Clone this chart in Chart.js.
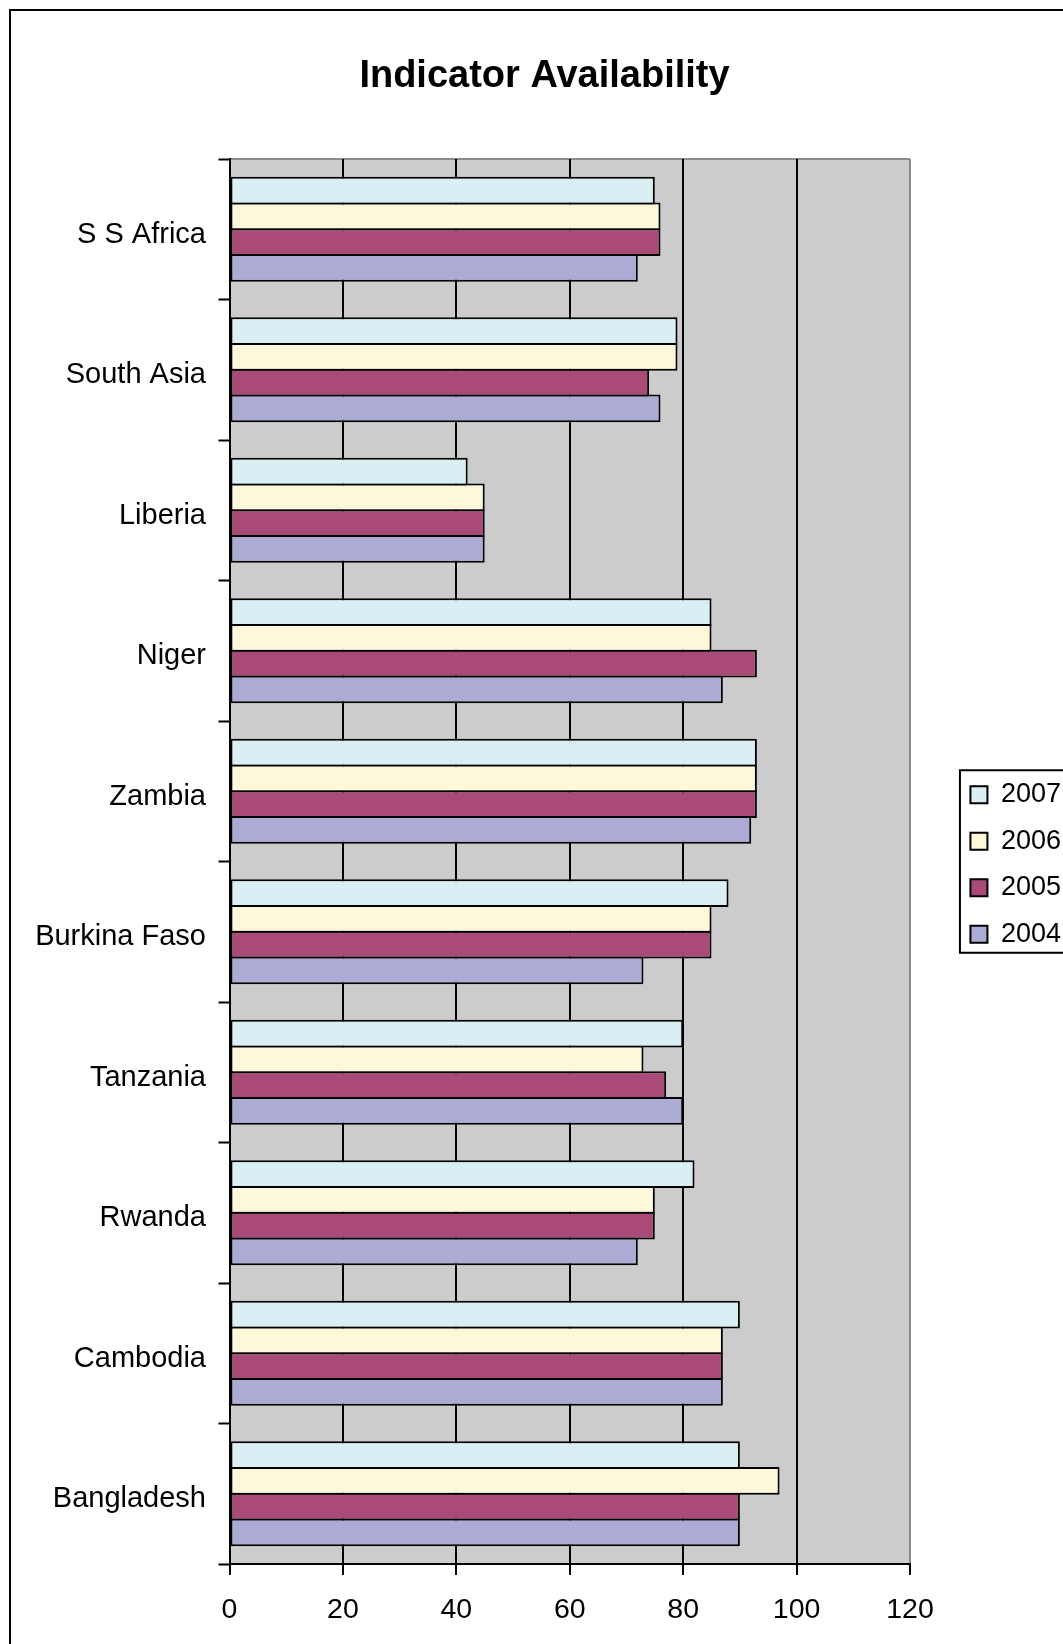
<!DOCTYPE html>
<html>
<head>
<meta charset="utf-8">
<title>Indicator Availability</title>
<script src="https://cdn.jsdelivr.net/npm/chart.js@4.4.1/dist/chart.umd.min.js"></script>
<style>
  html, body { margin: 0; padding: 0; background: #ffffff; overflow: hidden; }
  #wrap { position: absolute; left: 0; top: 0; }
  canvas { display: block; }
</style>
</head>
<body>
<div id="wrap"><canvas id="chart"></canvas></div>
<script>
// Countries / regions, top to bottom
const categories = ['S S Africa', 'South Asia', 'Liberia', 'Niger', 'Zambia',
                    'Burkina Faso', 'Tanzania', 'Rwanda', 'Cambodia', 'Bangladesh'];

// Indicator availability per year
const years = ['2007', '2006', '2005', '2004'];
const values2007 = [75, 79, 42, 85, 93, 88, 80, 82, 90, 90];
const values2006 = [76, 79, 45, 85, 93, 85, 73, 75, 87, 97];
const values2005 = [76, 74, 45, 93, 93, 85, 77, 75, 87, 90];
const values2004 = [72, 76, 45, 87, 92, 73, 80, 72, 87, 90];

// Value axis ticks
const xTicks = [0, 20, 40, 60, 80, 100, 120];

const seriesValues = [values2007, values2006, values2005, values2004];
const seriesColors = ['#DAEFF4', '#FDF8D9', '#AA4A78', '#ABABD6'];

// ---- layout constants (page pixels) ----
const H = 1729;
const FONT = '"Liberation Sans", Arial, sans-serif';
const AXIS_SIZE_Y = 29;
const AXIS_SIZE_X = 28.5;
const LEGEND_SIZE = 27;
const LEG_PAD = 19.5;
const LEG_BOX = 17;
const PLOT_TOP = 159;
const PLOT_LEFT = 229.5;
const PLOT_RIGHT = 910;
const PLOT_BOTTOM = 1564;
const LEFT_PAD = 18;
const LEGEND_LEFT = 950.5;

let gapWidth = 40;

const cv = document.getElementById('chart');

function sizeCanvas(w) {
  cv.width = w;
  cv.height = H;
  cv.style.width = w + 'px';
  cv.style.height = H + 'px';
}

Chart.defaults.font.family = FONT;
Chart.defaults.color = '#000000';

// Plot background, outer frame and legend frame
const decor = {
  id: 'decor',
  beforeDraw(chart) {
    const {ctx, chartArea: a} = chart;
    ctx.save();
    ctx.fillStyle = '#CCCCCC';
    ctx.fillRect(a.left, a.top, a.right - a.left, a.bottom - a.top);
    ctx.strokeStyle = '#8C8C8C';
    ctx.lineWidth = 2;
    ctx.beginPath();
    ctx.moveTo(a.left, a.top);
    ctx.lineTo(a.right, a.top);
    ctx.stroke();
    // outer frame
    ctx.fillStyle = '#000000';
    ctx.fillRect(9, 9, 2, chart.height);
    ctx.fillRect(9, 9, chart.width, 2);
    ctx.restore();
  },
  afterDraw(chart) {
    const lg = chart.legend;
    if (!lg || !lg.legendHitBoxes || !lg.legendHitBoxes.length) return;
    const hb = lg.legendHitBoxes;
    const first = hb[0], last = hb[hb.length - 1];
    const {ctx} = chart;
    ctx.save();
    ctx.strokeStyle = '#000000';
    ctx.lineWidth = 2;
    const x0 = first.left - 10.5;
    const y0 = first.top - 11;
    const y1 = last.top + last.height + 5;
    ctx.strokeRect(x0, y0, chart.width + 40 - x0, y1 - y0);
    ctx.restore();
  }
};

const catSize = (PLOT_BOTTOM - PLOT_TOP) / categories.length;
const catPct = 0.732;
const slot = catSize * catPct / years.length;

function makeConfig() {
  const datasets = years.map((y, i) => ({
    label: y,
    data: seriesValues[i],
    backgroundColor: seriesColors[i],
    borderColor: '#000000',
    borderWidth: 2,
    borderSkipped: false,
    xAxisID: 'x',
    yAxisID: 'y'
  }));

  return {
    type: 'bar',
    data: { labels: categories, datasets },
    plugins: [decor],
    options: {
      indexAxis: 'y',
      responsive: false,
      animation: false,
      devicePixelRatio: 1,
      categoryPercentage: catPct,
      barPercentage: 1 + 2 / slot,
      layout: { padding: { left: LEFT_PAD, top: 0, right: 0, bottom: 0 } },
      plugins: {
        title: {
          display: true,
          text: 'Indicator Availability',
          color: '#000000',
          font: { size: 38, weight: 'bold', lineHeight: 1.2 },
          padding: { top: 54.2, bottom: 59.2 }
        },
        legend: {
          display: true,
          position: 'right',
          align: 'center',
          labels: {
            boxWidth: LEG_BOX,
            boxHeight: LEG_BOX,
            padding: LEG_PAD,
            color: '#000000',
            font: { size: LEGEND_SIZE }
          }
        },
        tooltip: { enabled: false }
      },
      scales: {
        x: {
          type: 'linear',
          position: 'bottom',
          min: xTicks[0],
          max: xTicks[xTicks.length - 1],
          afterBuildTicks(scale) {
            scale.ticks = xTicks.map(v => ({ value: v }));
          },
          afterFit(scale) { scale.height = H - PLOT_BOTTOM; },
          grid: {
            display: true,
            drawOnChartArea: true,
            drawTicks: true,
            tickLength: 11,
            lineWidth: 2,
            tickWidth: 2,
            tickColor: '#000000',
            color: ctx => (ctx.tick && ctx.tick.value === 120) ? '#8C8C8C' : '#000000'
          },
          border: { display: true, color: '#000000', width: 2 },
          ticks: {
            color: '#000000',
            font: { size: AXIS_SIZE_X },
            padding: 18.5,
            maxRotation: 0
          }
        },
        y: {
          type: 'category',
          position: 'left',
          afterFit(scale) { scale.width = PLOT_LEFT - LEFT_PAD; },
          grid: {
            display: true,
            offset: true,
            drawOnChartArea: false,
            drawTicks: true,
            tickLength: 11,
            tickWidth: 2,
            tickColor: '#000000'
          },
          border: { display: true, color: '#000000', width: 2 },
          ticks: {
            color: '#000000',
            font: { size: AXIS_SIZE_Y },
            padding: 12.5,
            labelOffset: 5.5,
            autoSkip: false
          }
        },
        gap: {
          type: 'linear',
          position: 'right',
          display: true,
          afterFit(scale) { scale.width = gapWidth; },
          grid: { display: false, drawTicks: false },
          border: { display: false },
          ticks: { display: false }
        }
      }
    }
  };
}

// First pass finds the legend width, second pass places the plot and legend
sizeCanvas(1100);
let probe = new Chart(cv, makeConfig());
const legendWidth = probe.legend.width;
probe.destroy();

const W = Math.ceil(LEGEND_LEFT + legendWidth);
gapWidth = (W - legendWidth) - PLOT_RIGHT;
sizeCanvas(W);
new Chart(cv, makeConfig());
</script>
</body>
</html>
